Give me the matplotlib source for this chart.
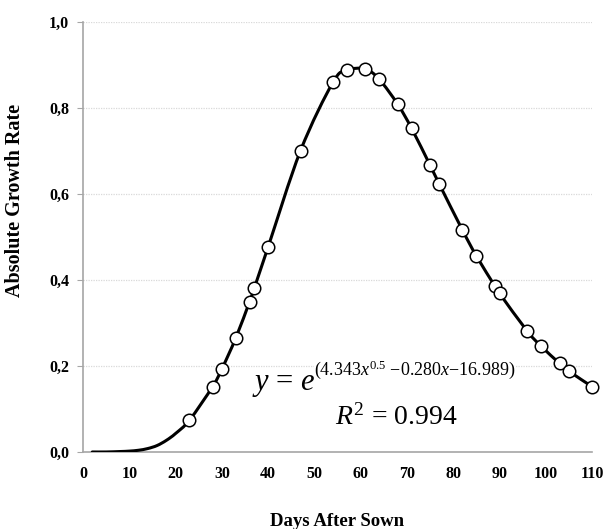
#!/usr/bin/env python3
"""
Absolute growth rate vs days after sown, smoothed line through the points
"""
import numpy as np
import matplotlib.pyplot as plt
from matplotlib.path import Path
from matplotlib.patches import PathPatch

plt.rcParams['font.family'] = ['Liberation Serif', 'DejaVu Serif']
plt.rcParams['mathtext.fontset'] = 'custom'
plt.rcParams['mathtext.rm'] = 'Liberation Serif'
plt.rcParams['mathtext.it'] = 'Liberation Serif:italic'
plt.rcParams['mathtext.bf'] = 'Liberation Serif:bold'

# observed points (markers)
days = [23, 28, 30, 33, 36, 37, 40, 47, 54, 57, 61, 64, 68,
        71, 75, 77, 82, 85, 89, 90, 96, 99, 103, 105, 110]
agr = [0.074, 0.152, 0.193, 0.265, 0.350, 0.381, 0.477, 0.701, 0.860,
       0.888, 0.891, 0.867, 0.809, 0.753, 0.667, 0.623, 0.516, 0.456,
       0.386, 0.369, 0.281, 0.246, 0.206, 0.188, 0.152]
# early part of the line, no markers
earlyDays = [2, 5, 8, 10, 12, 14, 16, 18, 20]
earlyAgr = [0.000, 0.000, 0.001, 0.002, 0.004, 0.008, 0.015, 0.027, 0.043]

yTicks = [0.0, 0.2, 0.4, 0.6, 0.8, 1.0]
yTickLabels = ['0,0', '0,2', '0,4', '0,6', '0,8', '1,0']
xTicks = [0, 10, 20, 30, 40, 50, 60, 70, 80, 90, 100, 110]
eqMain = r'$y$ = $e$'
eqExp = r'(4.343$x^{0.5}$ $-$0.280$x$$-$16.989)'
r2Text = r'$R^{2}$ = 0.994'


def smooth_path(xs, ys):
    # Excel style smoothed line: cubic bezier segments (catmull-rom)
    p = np.column_stack([xs, ys]).astype(float)
    p = np.vstack([p[0], p, p[-1]])
    verts = [p[1]]
    codes = [Path.MOVETO]
    for i in range(1, len(p) - 2):
        c1 = p[i] + (p[i + 1] - p[i - 1]) / 6
        c2 = p[i + 1] - (p[i + 2] - p[i]) / 6
        verts += [c1, c2, p[i + 1]]
        codes += [Path.CURVE4] * 3
    return Path(verts, codes)


fig = plt.figure(figsize=(6.06, 5.29), dpi=100)
ax = fig.add_axes([0.137, 0.1456, 0.840, 0.8125])

ax.grid(axis='y', color='#d9d9d9', linestyle=(0, (1, 1)), linewidth=0.9)
ax.set_axisbelow(True)
line = smooth_path(earlyDays + days, earlyAgr + agr)
ax.add_patch(PathPatch(line, facecolor='none', edgecolor='black',
                       linewidth=2.2, zorder=3, capstyle='round'))
ax.plot(days, agr, 'o', markersize=9, markerfacecolor='white',
        markeredgecolor='black', markeredgewidth=1.1, zorder=4, clip_on=False)

ax.set_xlim(0, 110)
ax.set_ylim(0, 1.0)
ax.set_xticks(xTicks)
ax.set_yticks(yTicks)
ax.set_yticklabels(yTickLabels)
for lab in ax.get_xticklabels() + ax.get_yticklabels():
    lab.set_fontweight('bold')
    lab.set_fontsize(11.5)
ax.tick_params(axis='x', length=0, pad=10)
ax.tick_params(axis='y', length=4, color='#a6a6a6', pad=6)

for s in ['top', 'right']:
    ax.spines[s].set_visible(False)
for s in ['left', 'bottom']:
    ax.spines[s].set_color('#a6a6a6')
    ax.spines[s].set_linewidth(1.2)

ax.set_xlabel('Days After Sown', fontsize=13.5, fontweight='bold', va='top')
ax.xaxis.set_label_coords(0.5, -0.143)
ax.set_ylabel('Absolute Growth Rate', fontsize=14.5, fontweight='bold')
ax.yaxis.set_label_coords(-0.114, 0.586)

# white boxes behind the equation hide the grid line
ax.text(36.5, 0.144, eqMain, fontsize=22, ha='left', va='baseline', zorder=2,
        bbox=dict(facecolor='white', edgecolor='none', pad=1))
ax.text(50.0, 0.179, eqExp, fontsize=13, ha='left', va='baseline', zorder=2.1,
        bbox=dict(facecolor='white', edgecolor='none', pad=0))
ax.text(67.7, 0.063, r2Text, fontsize=20, ha='center', va='baseline', zorder=2)

plt.savefig('out.png', dpi=100)
